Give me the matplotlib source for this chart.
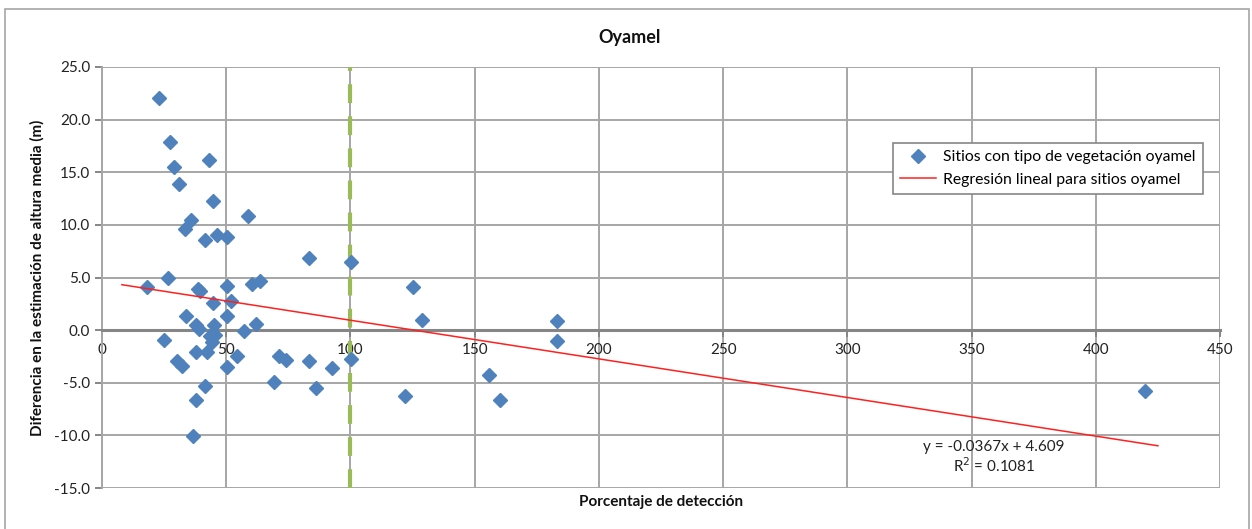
import matplotlib.pyplot as plt
from matplotlib.patches import Rectangle
import numpy as np

plt.rcParams['font.family'] = ['Lato', 'DejaVu Sans']

# porcentaje de deteccion / diferencia en altura media (m)
deteccion = [18.0, 22.9, 25.1, 26.6, 27.4, 28.9, 30.3, 30.9, 32.3, 33.5,
             33.7, 35.9, 36.8, 37.7, 37.7, 37.7, 38.6, 39.3, 39.0, 41.3,
             41.5, 42.1, 43.1, 43.5, 44.4, 44.5, 44.6, 45.2, 45.5, 46.1,
             50.2, 50.2, 50.2, 50.2, 52.0, 54.2, 57.3, 58.6, 60.3, 62.1,
             63.7, 69.2, 71.3, 74.0, 83.5, 83.5, 86.0, 92.4, 100.1, 100.1,
             121.8, 125.3, 128.8, 155.7, 160.2, 183.3, 183.3, 419.9]
diferencia = [4.1, 22.1, -0.9, 5.0, 17.9, 15.5, -2.9, 13.9, -3.4, 9.6,
              1.3, 10.5, -10.1, 0.5, -2.1, -6.6, 3.9, 3.7, 0.1, 8.6,
              -5.3, -2.1, 16.2, -0.6, -1.1, 12.3, 2.6, 0.5, -0.5, 9.0,
              8.85, 4.2, 1.3, -3.5, 2.8, -2.5, -0.1, 10.8, 4.4, 0.6,
              4.7, -4.9, -2.5, -2.8, 6.9, -2.9, -5.5, -3.6, 6.5, -2.7,
              -6.3, 4.05, 1.0, -4.3, -6.6, 0.85, -1.05, -5.8]

# linea de tendencia (Excel)
pendiente = -0.0367
intercepto = 4.609
r2 = 0.1081
x_tendencia = [8, 425]
umbral = 100

fig = plt.figure(figsize=(12.52, 5.29), dpi=100)
ax = fig.add_axes([102/1252, 1-488/529, 1118/1252, 421/529])

grid_color = '#A6A6A6'
ax.set_xlim(0, 450)
ax.set_ylim(-15, 25)
ax.set_xticks(np.arange(0, 451, 50))
ax.set_yticks(np.arange(-15, 25.1, 5))
ax.set_yticklabels(['%.1f' % v for v in np.arange(-15, 25.1, 5)])
ax.grid(True, color=grid_color, linewidth=1.4)
ax.set_axisbelow(True)

for s in ['top', 'right']:
    ax.spines[s].set_visible(False)
ax.spines['left'].set_color(grid_color)
ax.spines['left'].set_linewidth(1.4)
ax.spines['bottom'].set_position(('data', 0))
ax.spines['bottom'].set_color('#868686')
ax.spines['bottom'].set_linewidth(2.2)
ax.tick_params(axis='both', colors='#868686', labelcolor='#222222',
               labelsize=11, length=5, width=1.4)
ax.tick_params(axis='x', pad=4)

ax.axvline(umbral, color='#9BBB59', linewidth=3, dashes=(4.5, 3.2), zorder=2)

ax.plot(deteccion, diferencia, linestyle='none', marker='D', markersize=7.2,
        color='#4F81BD', label='Sitios con tipo de vegetación oyamel', zorder=3)

yt = [pendiente * x + intercepto for x in x_tendencia]
ax.plot(x_tendencia, yt, color='#FF2020', linewidth=1.1,
        label='Regresión lineal para sitios oyamel', zorder=4)

ax.text(359, -11.1, 'y = -0.0367x + 4.609', ha='center', va='center',
        fontsize=11, color='#222222')
ax.text(359, -12.9, 'R$^2$ = 0.1081', ha='center', va='center',
        fontsize=11, color='#222222')

leg = ax.legend(loc='upper left', bbox_to_anchor=(893/1252, 1-143/529),
                bbox_transform=fig.transFigure, fontsize=11.3, frameon=True,
                fancybox=False, edgecolor='#868686', framealpha=1,
                handlelength=2.3, handletextpad=0.45, borderpad=0.45,
                borderaxespad=0, labelspacing=0.55)
leg.get_frame().set_linewidth(1.2)

fig.text(630/1252, 1-37/529, 'Oyamel', ha='center', va='center',
         fontsize=13, fontweight='bold', color='#111111')
fig.text(661/1252, 1-502/529, 'Porcentaje de detección', ha='center', va='center',
         fontsize=11, fontweight='bold', color='#111111')
fig.text(37/1252, 1-278/529, 'Diferencia en la estimación de altura media (m)',
         ha='center', va='center', rotation=90, fontsize=11,
         fontweight='bold', color='#111111')

fig.patches.append(Rectangle((5/1252, -0.01), 1244/1252, 1-9/529 + 0.01,
                             transform=fig.transFigure, fill=False,
                             edgecolor='#A6A6A6', linewidth=1.2))

fig.savefig('out.png', dpi=100)
